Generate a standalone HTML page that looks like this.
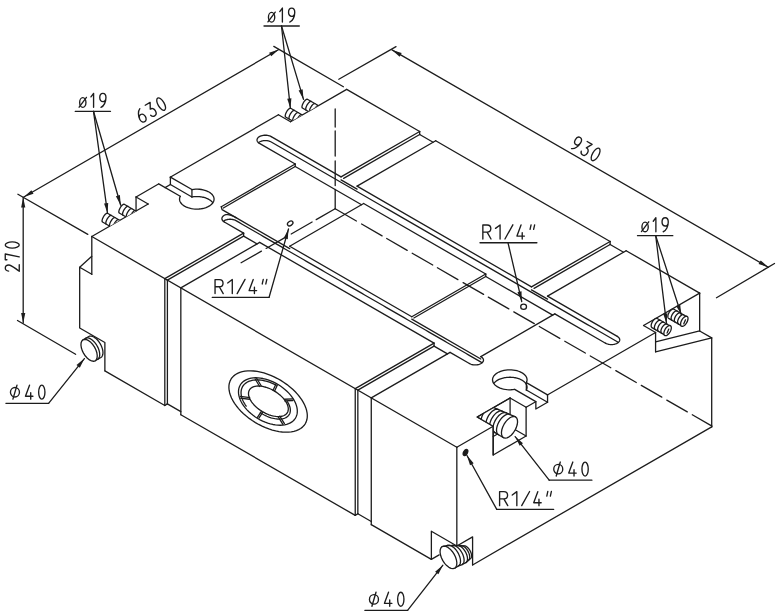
<!DOCTYPE html>
<html><head><meta charset="utf-8"><title>Tank drawing</title>
<style>
html,body{margin:0;padding:0;background:#fff;}
body{width:776px;height:616px;overflow:hidden;font-family:"Liberation Sans",sans-serif;}
svg{display:block}
svg path, svg line, svg ellipse, svg polyline{fill:none;stroke:#1c1c1c;stroke-width:1.3;stroke-linecap:round;stroke-linejoin:round}
svg .w{fill:#fff}
svg .t{stroke-width:1.3}
svg .wf{fill:#fff;stroke:none}
svg .ar{fill:#1c1c1c;stroke:none}
svg .tx path, svg .tx ellipse{stroke-width:1.35;vector-effect:non-scaling-stroke}
</style></head><body>
<svg width="776" height="616" viewBox="0 0 776 616">
<rect x="0" y="0" width="776" height="616" style="fill:#fff;stroke:none"/>
<path d="M91.8,236.5 L456.83,447.25"/>
<path d="M91.8,236.5 L91.8,274.3"/>
<path d="M91.8,274.3 L79.68,267.3 L79.68,328 L104.88,342.55 L104.88,370.85"/>
<path d="M79.68,267.3 L91.8,256.32"/>
<path d="M104.88,370.85 L164.81,405.45"/>
<path d="M180.83,414.7 L355.24,515.4"/>
<path d="M371.27,524.65 L431.37,559.35"/>
<path d="M164.81,278.65 L164.81,405.45"/>
<path d="M167.4,280.15 L167.4,403.85"/>
<path d="M180.83,287.9 L180.83,414.7"/>
<path d="M167.4,403.85 L180.83,411.6"/>
<path d="M164.81,405.45 L167.4,403.85"/>
<path d="M355.24,388.6 L355.24,515.4"/>
<path d="M357.84,390.1 L357.84,513.8"/>
<path d="M371.27,397.85 L371.27,524.65"/>
<path d="M357.84,513.8 L371.27,521.55"/>
<path d="M355.24,515.4 L357.84,513.8"/>
<path d="M456.83,447.25 L456.83,545.95"/>
<path d="M431.37,559.35 L431.37,531.25 L456.83,545.95"/>
<path d="M456.83,545.95 L472.59,536.85 L472.59,564.95"/>
<path d="M431.37,559.35 L439.16,554.85"/>
<path d="M472.59,564.95 L711.7,426.9"/>
<path d="M711.7,337.9 L711.7,426.9"/>
<path d="M91.8,236.5 L148.18,203.95"/>
<path d="M136.05,196.95 L148.18,203.95"/>
<path d="M136.05,196.95 L136.05,210.95"/>
<path d="M136.05,196.95 L158.48,184"/>
<path d="M170.18,177.25 L278.43,114.75"/>
<path d="M278.43,114.75 L290.55,121.75"/>
<path d="M290.55,121.75 L346.67,89.35"/>
<path d="M346.67,89.35 L419.68,131.5"/>
<path d="M435.7,140.75 L610.12,241.45"/>
<path d="M626.14,250.7 L699.66,293.15"/>
<path d="M419.68,131.5 L419.68,134.5"/>
<path d="M419.68,134.5 L433.1,142.25"/>
<path d="M610.12,241.45 L610.12,244.45"/>
<path d="M610.12,244.45 L623.54,252.2"/>
<path d="M456.83,447.25 L493.2,426.25"/>
<path d="M526.11,407.25 L535.64,401.75"/>
<path d="M547.33,395 L655.58,332.5"/>
<path d="M655.58,332.5 L643.54,325.55"/>
<path d="M643.54,325.55 L699.66,293.15"/>
<path d="M699.66,293.15 L699.66,330.95"/>
<path d="M655.58,332.5 L655.58,351.8"/>
<path d="M655.58,351.8 L711.7,337.9"/>
<path d="M699.66,330.95 L711.7,337.9"/>
<path d="M699.66,330.95 L655.58,341.87"/>
<path d="M164.81,278.65 L243.61,233.15"/>
<path d="M167.4,280.15 L243.61,236.15"/>
<path d="M180.83,287.9 L259.64,242.4"/>
<path d="M341.04,176.9 L419.68,131.5"/>
<path d="M343.64,178.4 L419.68,134.5"/>
<path d="M357.06,186.15 L435.7,140.75"/>
<path d="M355.24,388.6 L434.05,343.1"/>
<path d="M357.84,390.1 L434.05,346.1"/>
<path d="M371.27,397.85 L450.07,352.35"/>
<path d="M531.48,286.85 L610.12,241.45"/>
<path d="M534.08,288.35 L610.12,244.45"/>
<path d="M547.5,296.1 L626.14,250.7"/>
<path d="M221.27,206.75 L295.23,164.05"/>
<path d="M223.35,207.95 L295.23,166.45"/>
<path d="M289.69,246.25 L363.65,203.55"/>
<path d="M411.8,316.75 L485.75,274.05"/>
<path d="M413.87,317.95 L485.75,276.45"/>
<path d="M480.82,356.6 L554.78,313.9"/>
<path d="M235.99,217.65 L235.18,217.2 L234.28,216.73 L233.31,216.26 L232.29,215.81 L231.23,215.4 L230.15,215.05 L229.07,214.78 L228.01,214.61 L226.98,214.57 L226.01,214.65 L225.11,214.88 L224.3,215.25 L223.59,215.72 L222.99,216.24 L222.51,216.8 L222.16,217.39 L221.95,218 L221.88,218.62 L221.95,219.25 L222.16,219.86 L222.51,220.45 L222.99,221.01 L223.59,221.53 L224.3,222"/>
<path d="M469.39,363.5 L470.2,363.91 L471.1,364.26 L472.07,364.53 L473.09,364.74 L474.15,364.86 L475.23,364.9 L476.31,364.86 L477.37,364.74 L478.4,364.53 L479.37,364.26 L480.27,363.91 L481.08,363.5 L481.79,363.03 L482.39,362.51 L482.87,361.95 L483.22,361.36 L483.43,360.75 L483.5,360.12 L483.43,359.5 L483.22,358.89 L482.87,358.3 L482.39,357.74 L481.79,357.22 L481.08,356.75"/>
<path d="M224.3,222 L243.61,233.15"/>
<path d="M243.61,236.15 L257.04,243.9"/>
<path d="M243.61,233.15 L243.61,236.15"/>
<path d="M259.64,242.4 L434.05,343.1"/>
<path d="M434.05,346.1 L447.48,353.85"/>
<path d="M434.05,343.1 L434.05,346.1"/>
<path d="M450.07,352.35 L469.39,363.5"/>
<path d="M235.99,217.65 L289.69,248.65"/>
<path d="M289.69,246.25 L411.8,316.75"/>
<path d="M411.8,319.15 L480.82,359"/>
<path d="M480.82,356.6 L481.08,356.75"/>
<path d="M223.46,221.22 L223.86,220.93 L224.3,220.65 L224.78,220.4 L225.29,220.16 L225.83,219.96 L226.39,219.77 L226.98,219.62 L227.59,219.49 L228.22,219.38 L228.85,219.31 L229.5,219.27 L230.15,219.25 L230.8,219.27 L231.44,219.31 L232.08,219.38 L232.7,219.49 L233.31,219.62 L233.9,219.77 L234.47,219.96 L235.01,220.16 L235.52,220.4 L235.99,220.65 L239.06,222.42 L242.12,224.19 L245.18,225.96 L248.25,227.72 L251.31,229.49 L254.37,231.26 L257.44,233.03 L260.5,234.8 L263.57,236.57 L266.63,238.34 L269.69,240.11 L272.76,241.88 L275.82,243.64 L278.88,245.41 L281.95,247.18 L285.01,248.95 L288.07,250.72 L291.14,252.49 L294.2,254.26 L297.26,256.02 L300.33,257.79 L303.39,259.56 L306.46,261.33 L309.52,263.1 L312.58,264.87 L315.65,266.64 L318.71,268.41 L321.77,270.17 L324.84,271.94 L327.9,273.71 L330.96,275.48 L334.03,277.25 L337.09,279.02 L340.15,280.79 L343.22,282.56 L346.28,284.32 L349.35,286.09 L352.41,287.86 L355.47,289.63 L358.54,291.4 L361.6,293.17 L364.66,294.94 L367.73,296.71 L370.79,298.47 L373.85,300.24 L376.92,302.01 L379.98,303.78 L383.04,305.55 L386.11,307.32 L389.17,309.09 L392.24,310.86 L395.3,312.62 L398.36,314.39 L401.43,316.16 L404.49,317.93 L407.55,319.7 L410.62,321.47 L413.68,323.24 L416.74,325.01 L419.81,326.77 L422.87,328.54 L425.93,330.31 L429,332.08 L432.06,333.85 L435.12,335.62 L438.19,337.39 L441.25,339.16 L444.32,340.92 L447.38,342.69 L450.44,344.46 L453.51,346.23 L456.57,348 L459.63,349.77 L462.7,351.54 L465.76,353.31 L468.82,355.07 L471.89,356.84 L474.95,358.61 L478.01,360.38 L481.08,362.15 L481.52,362.43 L481.92,362.72"/>
<path d="M271.24,136.6 L270.42,136.19 L269.52,135.84 L268.54,135.56 L267.51,135.36 L266.44,135.23 L265.35,135.19 L264.26,135.23 L263.2,135.36 L262.16,135.56 L261.19,135.84 L260.28,136.19 L259.46,136.6 L258.74,137.07 L258.14,137.6 L257.66,138.16 L257.31,138.76 L257.09,139.37 L257.02,140 L257.09,140.63 L257.31,141.24 L257.66,141.84 L258.14,142.4 L258.74,142.93 L259.46,143.4"/>
<path d="M605.53,343.2 L606.35,343.61 L607.25,343.96 L608.23,344.24 L609.26,344.44 L610.33,344.57 L611.42,344.61 L612.5,344.57 L613.57,344.44 L614.6,344.24 L615.58,343.96 L616.49,343.61 L617.3,343.2 L618.02,342.73 L618.63,342.2 L619.11,341.64 L619.46,341.04 L619.67,340.43 L619.74,339.8 L619.67,339.17 L619.46,338.56 L619.11,337.96 L618.63,337.4 L618.02,336.87 L617.3,336.4"/>
<path d="M259.46,143.4 L295.23,164.05"/>
<path d="M295.23,166.45 L361.57,204.75"/>
<path d="M295.23,164.05 L295.23,166.45"/>
<path d="M363.65,203.55 L485.75,274.05"/>
<path d="M485.75,276.45 L552.7,315.1"/>
<path d="M485.75,274.05 L485.75,276.45"/>
<path d="M554.78,313.9 L605.53,343.2"/>
<path d="M271.24,136.6 L341.04,176.9"/>
<path d="M341.04,179.9 L357.06,189.15"/>
<path d="M357.06,186.15 L531.48,286.85"/>
<path d="M531.48,289.85 L547.5,299.1"/>
<path d="M547.5,296.1 L617.3,336.4"/>
<path d="M258.61,142.57 L259.02,142.28 L259.46,142 L259.94,141.74 L260.46,141.51 L261,141.3 L261.57,141.12 L262.16,140.96 L262.78,140.83 L263.41,140.72 L264.05,140.65 L264.7,140.61 L265.35,140.59 L266,140.61 L266.65,140.65 L267.3,140.72 L267.93,140.83 L268.54,140.96 L269.13,141.12 L269.7,141.3 L270.25,141.51 L270.76,141.74 L271.24,142 L275.57,144.5 L279.89,147 L284.22,149.49 L288.54,151.99 L292.87,154.49 L297.2,156.99 L301.52,159.48 L305.85,161.98 L310.17,164.48 L314.5,166.97 L318.82,169.47 L323.15,171.97 L327.48,174.47 L331.8,176.97 L336.13,179.46 L340.45,181.96 L344.78,184.46 L349.1,186.96 L353.43,189.45 L357.76,191.95 L362.08,194.45 L366.41,196.95 L370.73,199.44 L375.06,201.94 L379.39,204.44 L383.71,206.94 L388.04,209.43 L392.36,211.93 L396.69,214.43 L401.01,216.92 L405.34,219.42 L409.67,221.92 L413.99,224.42 L418.32,226.91 L422.64,229.41 L426.97,231.91 L431.29,234.41 L435.62,236.91 L439.95,239.4 L444.27,241.9 L448.6,244.4 L452.92,246.9 L457.25,249.39 L461.58,251.89 L465.9,254.39 L470.23,256.88 L474.55,259.38 L478.88,261.88 L483.2,264.38 L487.53,266.88 L491.86,269.37 L496.18,271.87 L500.51,274.37 L504.83,276.87 L509.16,279.36 L513.49,281.86 L517.81,284.36 L522.14,286.86 L526.46,289.35 L530.79,291.85 L535.11,294.35 L539.44,296.84 L543.77,299.34 L548.09,301.84 L552.42,304.34 L556.74,306.83 L561.07,309.33 L565.39,311.83 L569.72,314.33 L574.05,316.82 L578.37,319.32 L582.7,321.82 L587.02,324.32 L591.35,326.81 L595.68,329.31 L600,331.81 L604.33,334.31 L608.65,336.8 L612.98,339.3 L617.3,341.8 L617.75,342.08 L618.15,342.37"/>
<path d="M221.27,206.75 L222.05,209.6 L235.99,217.65"/>
<path d="M191.93,189.56 L193.78,189.31 L195.67,189.18 L197.57,189.16 L199.46,189.27 L201.32,189.5 L203.12,189.85 L204.85,190.3 L206.48,190.87 L207.99,191.53 L209.37,192.29 L210.6,193.12 L211.65,194.03 L212.53,195.01 L213.22,196.03 L213.71,197.09 L214,198.18 L214.07,199.27 L213.94,200.37 L213.6,201.45 L213.06,202.5 L212.32,203.51 L211.39,204.46 L210.28,205.36 L209.02,206.18 L207.6,206.91 L206.05,207.54 L204.4,208.08 L202.65,208.51 L200.82,208.82 L198.96,209.02 L197.06,209.09 L195.16,209.05 L193.28,208.89 L191.45,208.6 L189.67,208.21 L187.99,207.7 L186.41,207.09 L184.96,206.38 L183.65,205.58 L182.5,204.71 L181.52,203.77 L180.73,202.77 L180.14,201.73 L179.74,200.66 L179.55,199.56 L179.57,198.47 L179.8,197.38 L180.24,196.31"/>
<path d="M180.24,196.31 L158.7,183.88"/>
<path d="M191.93,189.56 L170.39,177.12"/>
<path d="M191.93,196.96 L170.39,184.53"/>
<path d="M191.93,189.56 L191.93,196.96"/>
<path d="M170.39,177.12 L170.39,184.53"/>
<path d="M191.93,196.96 L192.85,196.82 L193.78,196.71 L194.72,196.63 L195.67,196.58 L196.62,196.56 L197.57,196.56 L198.52,196.6 L199.46,196.67 L200.39,196.77 L201.32,196.9 L202.23,197.06 L203.12,197.25 L204,197.46 L204.85,197.7 L205.68,197.97 L206.48,198.27 L207.25,198.59 L207.99,198.93 L208.7,199.3 L209.37,199.69 L210,200.09 L210.6,200.52 L211.15,200.97 L211.65,201.43 L212.12,201.91 L212.53,202.41"/>
<path d="M170.39,184.53 L165.11,187.58"/>
<path d="M526.35,382.64 L526.79,381.57 L527.02,380.48 L527.04,379.39 L526.85,378.29 L526.46,377.22 L525.86,376.18 L525.07,375.18 L524.09,374.24 L522.94,373.37 L521.63,372.57 L520.18,371.86 L518.6,371.25 L516.92,370.74 L515.15,370.35 L513.31,370.06 L511.43,369.9 L509.53,369.86 L507.64,369.93 L505.77,370.13 L503.95,370.44 L502.2,370.87 L500.54,371.41 L498.99,372.04 L497.58,372.77 L496.31,373.59 L495.2,374.49 L494.28,375.44 L493.54,376.45 L492.99,377.5 L492.65,378.58 L492.52,379.68 L492.6,380.77 L492.88,381.86 L493.37,382.92 L494.06,383.94 L494.94,384.92 L496,385.83 L497.22,386.66 L498.6,387.42 L500.11,388.08 L501.74,388.65 L503.47,389.1 L505.28,389.45 L507.13,389.68 L509.03,389.79 L510.93,389.77 L512.81,389.64 L514.66,389.39"/>
<path d="M514.66,389.39 L535.85,401.62"/>
<path d="M526.35,382.64 L547.55,394.88"/>
<path d="M526.35,390.04 L547.55,402.27"/>
<path d="M526.35,382.64 L526.35,390.04"/>
<path d="M547.55,394.88 L547.55,402.27"/>
<path d="M526.35,390.04 L526.6,389.51 L526.79,388.97 L526.93,388.43 L527.02,387.88 L527.06,387.33 L527.04,386.79 L526.97,386.24 L526.85,385.69 L526.68,385.15 L526.46,384.62 L526.18,384.09 L525.86,383.58 L525.49,383.07 L525.07,382.58 L524.6,382.1 L524.09,381.64 L523.54,381.19 L522.94,380.77 L522.31,380.36 L521.63,379.97 L520.92,379.61 L520.18,379.26 L519.41,378.95 L518.6,378.65 L517.77,378.38 L516.92,378.14 L516.04,377.93 L515.15,377.75 L514.24,377.59 L513.31,377.46 L512.38,377.37 L511.43,377.3 L510.48,377.26 L509.53,377.26 L508.58,377.28 L507.64,377.33 L506.7,377.42 L505.77,377.53 L504.85,377.67 L503.95,377.84 L503.06,378.04 L502.2,378.27 L501.35,378.52 L500.54,378.81 L499.75,379.11 L498.99,379.44 L498.27,379.8 L497.58,380.17 L496.92,380.57 L496.31,380.99 L495.73,381.43 L495.2,381.89 L494.72,382.36 L494.28,382.84 L493.88,383.34"/>
<path d="M535.85,401.62 L535.85,409.02 L547.55,402.27"/>
<path d="M493.2,426.25 L477.18,417 L510.09,398 L526.11,407.25"/>
<path d="M493.2,426.25 L493.2,455.05 L526.11,436.05 L526.11,407.25"/>
<path d="M510.09,398 L510.09,426.8"/>
<path d="M510.09,426.8 L526.11,436.05"/>
<clipPath id="c1"><path d="M60,150 L136.05,150 L136.05,210.95 L91.8,236.5 L60,256.5 Z"/></clipPath>
<g clip-path="url(#c1)"><path class="wf" d="M107.5,213.3 L107.28,213.22 L107.03,213.22 L106.73,213.3 L106.41,213.45 L106.07,213.67 L105.7,213.96 L105.32,214.31 L104.94,214.72 L104.56,215.18 L104.19,215.68 L103.82,216.22 L103.48,216.78 L103.17,217.35 L102.89,217.93 L102.64,218.51 L102.43,219.07 L102.27,219.6 L102.15,220.11 L102.08,220.57 L102.06,220.98 L102.09,221.33 L102.18,221.62 L102.3,221.84 L102.48,221.99 L116.34,229.99 L116.55,230.07 L116.81,230.07 L117.1,230 L117.43,229.85 L117.77,229.63 L118.14,229.34 L118.51,228.98 L118.9,228.57 L119.28,228.11 L119.65,227.61 L120.01,227.08 L120.35,226.52 L120.67,225.94 L120.95,225.36 L121.2,224.79 L121.41,224.22 L121.57,223.69 L121.69,223.19 L121.76,222.73 L121.77,222.31 L121.74,221.96 L121.66,221.67 L121.53,221.45 L121.36,221.3 Z"/><path d="M121.36,221.3 L107.5,213.3 L107.28,213.22 L107.03,213.22 L106.73,213.3 L106.41,213.45 L106.07,213.67 L105.7,213.96 L105.32,214.31 L104.94,214.72 L104.56,215.18 L104.19,215.68 L103.82,216.22 L103.48,216.78 L103.17,217.35 L102.89,217.93 L102.64,218.51 L102.43,219.07 L102.27,219.6 L102.15,220.11 L102.08,220.57 L102.06,220.98 L102.09,221.33 L102.18,221.62 L102.3,221.84 L102.48,221.99 L116.34,229.99"/><path d="M116.34,229.99 L116.55,230.07 L116.81,230.07 L117.1,230 L117.43,229.85 L117.77,229.63 L118.14,229.34 L118.51,228.98 L118.9,228.57 L119.28,228.11 L119.65,227.61 L120.01,227.08 L120.35,226.52 L120.67,225.94 L120.95,225.36 L121.2,224.79 L121.41,224.22 L121.57,223.69 L121.69,223.19 L121.76,222.73 L121.77,222.31 L121.74,221.96 L121.66,221.67 L121.53,221.45 L121.36,221.3"/><path d="M111.24,215.46 L111.02,215.38 L110.77,215.38 L110.48,215.46 L110.15,215.61 L109.81,215.83 L109.44,216.12 L109.07,216.47 L108.68,216.88 L108.3,217.34 L107.93,217.84 L107.57,218.38 L107.23,218.94 L106.91,219.51 L106.63,220.09 L106.38,220.67 L106.17,221.23 L106.01,221.76 L105.89,222.27 L105.82,222.73 L105.8,223.14 L105.84,223.49 L105.92,223.78 L106.05,224 L106.22,224.15"/><path d="M114.98,217.62 L114.77,217.54 L114.51,217.54 L114.22,217.62 L113.89,217.77 L113.55,217.99 L113.18,218.28 L112.81,218.63 L112.42,219.04 L112.04,219.5 L111.67,220 L111.31,220.54 L110.97,221.1 L110.65,221.67 L110.37,222.25 L110.12,222.83 L109.91,223.39 L109.75,223.92 L109.63,224.43 L109.56,224.89 L109.55,225.3 L109.58,225.65 L109.66,225.94 L109.79,226.16 L109.96,226.31"/><path d="M118.59,219.7 L118.37,219.62 L118.11,219.62 L117.82,219.7 L117.5,219.85 L117.15,220.07 L116.79,220.36 L116.41,220.71 L116.03,221.12 L115.64,221.58 L115.27,222.08 L114.91,222.62 L114.57,223.18 L114.25,223.75 L113.97,224.33 L113.72,224.91 L113.52,225.47 L113.35,226 L113.24,226.51 L113.17,226.97 L113.15,227.38 L113.18,227.73 L113.26,228.02 L113.39,228.24 L113.57,228.39"/></g>
<g clip-path="url(#c1)"><path class="wf" d="M124.25,204.3 L124.03,204.22 L123.78,204.22 L123.48,204.3 L123.16,204.45 L122.82,204.67 L122.45,204.96 L122.07,205.31 L121.69,205.72 L121.31,206.18 L120.94,206.68 L120.57,207.22 L120.23,207.78 L119.92,208.35 L119.64,208.93 L119.39,209.51 L119.18,210.07 L119.02,210.6 L118.9,211.11 L118.83,211.57 L118.81,211.98 L118.84,212.33 L118.93,212.62 L119.05,212.84 L119.23,212.99 L133.09,220.99 L133.3,221.07 L133.56,221.07 L133.85,221 L134.18,220.85 L134.52,220.63 L134.89,220.34 L135.26,219.98 L135.65,219.57 L136.03,219.11 L136.4,218.61 L136.76,218.08 L137.1,217.52 L137.42,216.94 L137.7,216.36 L137.95,215.79 L138.16,215.22 L138.32,214.69 L138.44,214.19 L138.51,213.73 L138.52,213.31 L138.49,212.96 L138.41,212.67 L138.28,212.45 L138.11,212.3 Z"/><path d="M138.11,212.3 L124.25,204.3 L124.03,204.22 L123.78,204.22 L123.48,204.3 L123.16,204.45 L122.82,204.67 L122.45,204.96 L122.07,205.31 L121.69,205.72 L121.31,206.18 L120.94,206.68 L120.57,207.22 L120.23,207.78 L119.92,208.35 L119.64,208.93 L119.39,209.51 L119.18,210.07 L119.02,210.6 L118.9,211.11 L118.83,211.57 L118.81,211.98 L118.84,212.33 L118.93,212.62 L119.05,212.84 L119.23,212.99 L133.09,220.99"/><path d="M133.09,220.99 L133.3,221.07 L133.56,221.07 L133.85,221 L134.18,220.85 L134.52,220.63 L134.89,220.34 L135.26,219.98 L135.65,219.57 L136.03,219.11 L136.4,218.61 L136.76,218.08 L137.1,217.52 L137.42,216.94 L137.7,216.36 L137.95,215.79 L138.16,215.22 L138.32,214.69 L138.44,214.19 L138.51,213.73 L138.52,213.31 L138.49,212.96 L138.41,212.67 L138.28,212.45 L138.11,212.3"/><path d="M127.99,206.46 L127.77,206.38 L127.52,206.38 L127.23,206.46 L126.9,206.61 L126.56,206.83 L126.19,207.12 L125.82,207.47 L125.43,207.88 L125.05,208.34 L124.68,208.84 L124.32,209.38 L123.98,209.94 L123.66,210.51 L123.38,211.09 L123.13,211.67 L122.92,212.23 L122.76,212.76 L122.64,213.27 L122.57,213.73 L122.55,214.14 L122.59,214.49 L122.67,214.78 L122.8,215 L122.97,215.15"/><path d="M131.73,208.62 L131.52,208.54 L131.26,208.54 L130.97,208.62 L130.64,208.77 L130.3,208.99 L129.93,209.28 L129.56,209.63 L129.17,210.04 L128.79,210.5 L128.42,211 L128.06,211.54 L127.72,212.1 L127.4,212.67 L127.12,213.25 L126.87,213.83 L126.66,214.39 L126.5,214.92 L126.38,215.43 L126.31,215.89 L126.3,216.3 L126.33,216.65 L126.41,216.94 L126.54,217.16 L126.71,217.31"/><path d="M135.34,210.7 L135.12,210.62 L134.86,210.62 L134.57,210.7 L134.25,210.85 L133.9,211.07 L133.54,211.36 L133.16,211.71 L132.78,212.12 L132.39,212.58 L132.02,213.08 L131.66,213.62 L131.32,214.18 L131,214.75 L130.72,215.33 L130.47,215.91 L130.27,216.47 L130.1,217 L129.99,217.51 L129.92,217.97 L129.9,218.38 L129.93,218.73 L130.01,219.02 L130.14,219.24 L130.32,219.39"/></g>
<clipPath id="c2"><path d="M268.43,40 L346.67,40 L346.67,89.35 L290.55,121.75 L278.43,114.75 L268.43,120.75 Z"/></clipPath>
<g clip-path="url(#c2)"><path class="wf" d="M290.65,108.3 L290.43,108.22 L290.18,108.22 L289.88,108.3 L289.56,108.45 L289.22,108.67 L288.85,108.96 L288.47,109.31 L288.09,109.72 L287.71,110.18 L287.34,110.68 L286.97,111.22 L286.63,111.78 L286.32,112.35 L286.04,112.93 L285.79,113.51 L285.58,114.07 L285.42,114.6 L285.3,115.11 L285.23,115.57 L285.21,115.98 L285.24,116.33 L285.33,116.62 L285.45,116.84 L285.63,116.99 L299.49,124.99 L299.7,125.07 L299.96,125.07 L300.25,125 L300.58,124.85 L300.92,124.63 L301.29,124.34 L301.66,123.98 L302.05,123.57 L302.43,123.11 L302.8,122.61 L303.16,122.08 L303.5,121.52 L303.82,120.94 L304.1,120.36 L304.35,119.79 L304.56,119.22 L304.72,118.69 L304.84,118.19 L304.91,117.73 L304.92,117.31 L304.89,116.96 L304.81,116.67 L304.68,116.45 L304.51,116.3 Z"/><path d="M304.51,116.3 L290.65,108.3 L290.43,108.22 L290.18,108.22 L289.88,108.3 L289.56,108.45 L289.22,108.67 L288.85,108.96 L288.47,109.31 L288.09,109.72 L287.71,110.18 L287.34,110.68 L286.97,111.22 L286.63,111.78 L286.32,112.35 L286.04,112.93 L285.79,113.51 L285.58,114.07 L285.42,114.6 L285.3,115.11 L285.23,115.57 L285.21,115.98 L285.24,116.33 L285.33,116.62 L285.45,116.84 L285.63,116.99 L299.49,124.99"/><path d="M299.49,124.99 L299.7,125.07 L299.96,125.07 L300.25,125 L300.58,124.85 L300.92,124.63 L301.29,124.34 L301.66,123.98 L302.05,123.57 L302.43,123.11 L302.8,122.61 L303.16,122.08 L303.5,121.52 L303.82,120.94 L304.1,120.36 L304.35,119.79 L304.56,119.22 L304.72,118.69 L304.84,118.19 L304.91,117.73 L304.92,117.31 L304.89,116.96 L304.81,116.67 L304.68,116.45 L304.51,116.3"/><path d="M294.39,110.46 L294.17,110.38 L293.92,110.38 L293.63,110.46 L293.3,110.61 L292.96,110.83 L292.59,111.12 L292.22,111.47 L291.83,111.88 L291.45,112.34 L291.08,112.84 L290.72,113.38 L290.38,113.94 L290.06,114.51 L289.78,115.09 L289.53,115.67 L289.32,116.23 L289.16,116.76 L289.04,117.27 L288.97,117.73 L288.95,118.14 L288.99,118.49 L289.07,118.78 L289.2,119 L289.37,119.15"/><path d="M298.13,112.62 L297.92,112.54 L297.66,112.54 L297.37,112.62 L297.04,112.77 L296.7,112.99 L296.33,113.28 L295.96,113.63 L295.57,114.04 L295.19,114.5 L294.82,115 L294.46,115.54 L294.12,116.1 L293.8,116.67 L293.52,117.25 L293.27,117.83 L293.06,118.39 L292.9,118.92 L292.78,119.43 L292.71,119.89 L292.7,120.3 L292.73,120.65 L292.81,120.94 L292.94,121.16 L293.11,121.31"/><path d="M301.74,114.7 L301.52,114.62 L301.26,114.62 L300.97,114.7 L300.65,114.85 L300.3,115.07 L299.94,115.36 L299.56,115.71 L299.18,116.12 L298.79,116.58 L298.42,117.08 L298.06,117.62 L297.72,118.18 L297.4,118.75 L297.12,119.33 L296.87,119.91 L296.67,120.47 L296.5,121 L296.39,121.51 L296.32,121.97 L296.3,122.38 L296.33,122.73 L296.41,123.02 L296.54,123.24 L296.72,123.39"/></g>
<g clip-path="url(#c2)"><path class="wf" d="M307.4,99.3 L307.18,99.22 L306.93,99.22 L306.63,99.3 L306.31,99.45 L305.97,99.67 L305.6,99.96 L305.22,100.31 L304.84,100.72 L304.46,101.18 L304.09,101.68 L303.72,102.22 L303.38,102.78 L303.07,103.35 L302.79,103.93 L302.54,104.51 L302.33,105.07 L302.17,105.6 L302.05,106.11 L301.98,106.57 L301.96,106.98 L301.99,107.33 L302.08,107.62 L302.2,107.84 L302.38,107.99 L316.24,115.99 L316.45,116.07 L316.71,116.07 L317,116 L317.33,115.85 L317.67,115.63 L318.04,115.34 L318.41,114.98 L318.8,114.57 L319.18,114.11 L319.55,113.61 L319.91,113.08 L320.25,112.52 L320.57,111.94 L320.85,111.36 L321.1,110.79 L321.31,110.22 L321.47,109.69 L321.59,109.19 L321.66,108.73 L321.67,108.31 L321.64,107.96 L321.56,107.67 L321.43,107.45 L321.26,107.3 Z"/><path d="M321.26,107.3 L307.4,99.3 L307.18,99.22 L306.93,99.22 L306.63,99.3 L306.31,99.45 L305.97,99.67 L305.6,99.96 L305.22,100.31 L304.84,100.72 L304.46,101.18 L304.09,101.68 L303.72,102.22 L303.38,102.78 L303.07,103.35 L302.79,103.93 L302.54,104.51 L302.33,105.07 L302.17,105.6 L302.05,106.11 L301.98,106.57 L301.96,106.98 L301.99,107.33 L302.08,107.62 L302.2,107.84 L302.38,107.99 L316.24,115.99"/><path d="M316.24,115.99 L316.45,116.07 L316.71,116.07 L317,116 L317.33,115.85 L317.67,115.63 L318.04,115.34 L318.41,114.98 L318.8,114.57 L319.18,114.11 L319.55,113.61 L319.91,113.08 L320.25,112.52 L320.57,111.94 L320.85,111.36 L321.1,110.79 L321.31,110.22 L321.47,109.69 L321.59,109.19 L321.66,108.73 L321.67,108.31 L321.64,107.96 L321.56,107.67 L321.43,107.45 L321.26,107.3"/><path d="M311.14,101.46 L310.92,101.38 L310.67,101.38 L310.38,101.46 L310.05,101.61 L309.71,101.83 L309.34,102.12 L308.97,102.47 L308.58,102.88 L308.2,103.34 L307.83,103.84 L307.47,104.38 L307.13,104.94 L306.81,105.51 L306.53,106.09 L306.28,106.67 L306.07,107.23 L305.91,107.76 L305.79,108.27 L305.72,108.73 L305.7,109.14 L305.74,109.49 L305.82,109.78 L305.95,110 L306.12,110.15"/><path d="M314.88,103.62 L314.67,103.54 L314.41,103.54 L314.12,103.62 L313.79,103.77 L313.45,103.99 L313.08,104.28 L312.71,104.63 L312.32,105.04 L311.94,105.5 L311.57,106 L311.21,106.54 L310.87,107.1 L310.55,107.67 L310.27,108.25 L310.02,108.83 L309.81,109.39 L309.65,109.92 L309.53,110.43 L309.46,110.89 L309.45,111.3 L309.48,111.65 L309.56,111.94 L309.69,112.16 L309.86,112.31"/><path d="M318.49,105.7 L318.27,105.62 L318.01,105.62 L317.72,105.7 L317.4,105.85 L317.05,106.07 L316.69,106.36 L316.31,106.71 L315.93,107.12 L315.54,107.58 L315.17,108.08 L314.81,108.62 L314.47,109.18 L314.15,109.75 L313.87,110.33 L313.62,110.91 L313.42,111.47 L313.25,112 L313.14,112.51 L313.07,112.97 L313.05,113.38 L313.08,113.73 L313.16,114.02 L313.29,114.24 L313.47,114.39"/></g>
<clipPath id="c3"><path d="M643.54,325.55 L655.58,332.5 L655.58,362.5 L740,362.5 L740,250 L643.54,250 Z"/></clipPath>
<g clip-path="url(#c3)"><path class="wf" d="M657.24,318.54 L656.93,318.41 L656.57,318.36 L656.19,318.39 L655.77,318.5 L655.34,318.69 L654.89,318.96 L654.44,319.3 L653.99,319.7 L653.55,320.16 L653.13,320.67 L652.73,321.22 L652.37,321.81 L652.05,322.41 L651.77,323.03 L651.53,323.65 L651.35,324.26 L651.23,324.85 L651.17,325.41 L651.16,325.93 L651.21,326.4 L651.32,326.82 L651.49,327.17 L651.71,327.45 L651.98,327.66 L664.97,335.16 L665.28,335.29 L665.64,335.34 L666.02,335.31 L666.44,335.2 L666.87,335.01 L667.32,334.74 L667.77,334.4 L668.22,334 L668.66,333.54 L669.08,333.03 L669.48,332.48 L669.84,331.89 L670.16,331.29 L670.44,330.67 L670.68,330.05 L670.85,329.44 L670.98,328.85 L671.04,328.29 L671.05,327.77 L671,327.3 L670.89,326.88 L670.72,326.53 L670.5,326.25 L670.23,326.04 Z"/><path d="M670.23,326.04 L657.24,318.54 L656.93,318.41 L656.57,318.36 L656.19,318.39 L655.77,318.5 L655.34,318.69 L654.89,318.96 L654.44,319.3 L653.99,319.7 L653.55,320.16 L653.13,320.67 L652.73,321.22 L652.37,321.81 L652.05,322.41 L651.77,323.03 L651.53,323.65 L651.35,324.26 L651.23,324.85 L651.17,325.41 L651.16,325.93 L651.21,326.4 L651.32,326.82 L651.49,327.17 L651.71,327.45 L651.98,327.66 L664.97,335.16"/><path d="M660.49,320.41 L660.18,320.28 L659.82,320.24 L659.43,320.27 L659.02,320.38 L658.58,320.57 L658.14,320.84 L657.68,321.17 L657.24,321.58 L656.8,322.04 L656.38,322.55 L655.98,323.1 L655.62,323.68 L655.29,324.29 L655.01,324.91 L654.78,325.53 L654.6,326.14 L654.48,326.73 L654.41,327.29 L654.41,327.81 L654.46,328.28 L654.57,328.69 L654.73,329.05 L654.95,329.33 L655.22,329.54"/><path d="M663.74,322.29 L663.42,322.16 L663.07,322.11 L662.68,322.14 L662.27,322.25 L661.83,322.44 L661.38,322.71 L660.93,323.05 L660.48,323.45 L660.04,323.91 L659.62,324.42 L659.23,324.97 L658.87,325.56 L658.54,326.16 L658.26,326.78 L658.03,327.4 L657.85,328.01 L657.73,328.6 L657.66,329.16 L657.65,329.68 L657.71,330.15 L657.82,330.57 L657.98,330.92 L658.2,331.2 L658.47,331.41"/><path d="M666.99,324.16 L666.67,324.03 L666.32,323.99 L665.93,324.02 L665.51,324.13 L665.08,324.32 L664.63,324.59 L664.18,324.92 L663.73,325.33 L663.29,325.79 L662.87,326.3 L662.48,326.85 L662.11,327.43 L661.79,328.04 L661.51,328.66 L661.28,329.28 L661.1,329.89 L660.97,330.48 L660.91,331.04 L660.9,331.56 L660.95,332.03 L661.06,332.44 L661.23,332.8 L661.45,333.08 L661.72,333.29"/><path class="w" d="M671.32,328.1 L671.27,327.03 L670.97,326.2 L670.44,325.67 L669.72,325.48 L668.85,325.64 L667.9,326.13 L666.93,326.93 L666,327.98 L665.18,329.2 L664.53,330.53 L664.08,331.85 L663.88,333.1 L663.93,334.17 L664.23,335 L664.76,335.53 L665.48,335.72 L666.35,335.56 L667.3,335.07 L668.27,334.27 L669.2,333.22 L670.02,332 L670.67,330.67 L671.12,329.35 L671.32,328.1 Z"/></g>
<path d="M667.1,333.1 L668.8,329.1"/>
<g clip-path="url(#c3)"><path class="wf" d="M673.94,309.24 L673.63,309.11 L673.27,309.06 L672.89,309.09 L672.47,309.2 L672.04,309.39 L671.59,309.66 L671.14,310 L670.69,310.4 L670.25,310.86 L669.83,311.37 L669.43,311.92 L669.07,312.51 L668.75,313.11 L668.47,313.73 L668.23,314.35 L668.05,314.96 L667.93,315.55 L667.87,316.11 L667.86,316.63 L667.91,317.1 L668.02,317.52 L668.19,317.87 L668.41,318.15 L668.68,318.36 L681.67,325.86 L681.98,325.99 L682.34,326.04 L682.72,326.01 L683.14,325.9 L683.57,325.71 L684.02,325.44 L684.47,325.1 L684.92,324.7 L685.36,324.24 L685.78,323.73 L686.18,323.18 L686.54,322.59 L686.86,321.99 L687.14,321.37 L687.38,320.75 L687.55,320.14 L687.68,319.55 L687.74,318.99 L687.75,318.47 L687.7,318 L687.59,317.58 L687.42,317.23 L687.2,316.95 L686.93,316.74 Z"/><path d="M686.93,316.74 L673.94,309.24 L673.63,309.11 L673.27,309.06 L672.89,309.09 L672.47,309.2 L672.04,309.39 L671.59,309.66 L671.14,310 L670.69,310.4 L670.25,310.86 L669.83,311.37 L669.43,311.92 L669.07,312.51 L668.75,313.11 L668.47,313.73 L668.23,314.35 L668.05,314.96 L667.93,315.55 L667.87,316.11 L667.86,316.63 L667.91,317.1 L668.02,317.52 L668.19,317.87 L668.41,318.15 L668.68,318.36 L681.67,325.86"/><path d="M677.19,311.11 L676.88,310.98 L676.52,310.94 L676.13,310.97 L675.72,311.08 L675.28,311.27 L674.84,311.54 L674.38,311.87 L673.94,312.28 L673.5,312.74 L673.08,313.25 L672.68,313.8 L672.32,314.38 L671.99,314.99 L671.71,315.61 L671.48,316.23 L671.3,316.84 L671.18,317.43 L671.11,317.99 L671.11,318.51 L671.16,318.98 L671.27,319.39 L671.43,319.75 L671.65,320.03 L671.92,320.24"/><path d="M680.44,312.99 L680.12,312.86 L679.77,312.81 L679.38,312.84 L678.97,312.95 L678.53,313.14 L678.08,313.41 L677.63,313.75 L677.18,314.15 L676.74,314.61 L676.32,315.12 L675.93,315.67 L675.57,316.26 L675.24,316.86 L674.96,317.48 L674.73,318.1 L674.55,318.71 L674.43,319.3 L674.36,319.86 L674.35,320.38 L674.41,320.85 L674.52,321.27 L674.68,321.62 L674.9,321.9 L675.17,322.11"/><path d="M683.69,314.86 L683.37,314.73 L683.02,314.69 L682.63,314.72 L682.21,314.83 L681.78,315.02 L681.33,315.29 L680.88,315.62 L680.43,316.03 L679.99,316.49 L679.57,317 L679.18,317.55 L678.81,318.13 L678.49,318.74 L678.21,319.36 L677.98,319.98 L677.8,320.59 L677.67,321.18 L677.61,321.74 L677.6,322.26 L677.65,322.73 L677.76,323.14 L677.93,323.5 L678.15,323.78 L678.42,323.99"/><path class="w" d="M688.02,318.8 L687.97,317.73 L687.67,316.9 L687.14,316.37 L686.42,316.18 L685.55,316.34 L684.6,316.83 L683.63,317.63 L682.7,318.68 L681.88,319.9 L681.23,321.23 L680.78,322.55 L680.58,323.8 L680.63,324.87 L680.93,325.7 L681.46,326.23 L682.18,326.42 L683.05,326.26 L684,325.77 L684.97,324.97 L685.9,323.92 L686.72,322.7 L687.37,321.37 L687.82,320.05 L688.02,318.8 Z"/></g>
<path d="M683.8,323.8 L685.5,319.8"/>
<clipPath id="c4"><path d="M476.88,417 L510.09,398 L529.11,407.25 L529.11,439.05 L493.2,458.05 L493.2,426.25 Z"/></clipPath>
<path d="M493.2,436.55 L510.09,426.8"/>
<clipPath id="c5"><path d="M60,316.7 L79.6,328 L104.8,342.5 L104.8,390 L60,390 Z"/></clipPath>
<g clip-path="url(#c5)"><path class="wf" d="M88.75,336.5 L89.52,336.18 L90.37,336.04 L91.3,336.09 L92.29,336.33 L93.33,336.75 L94.39,337.35 L95.45,338.11 L96.51,339.02 L97.54,340.07 L98.52,341.24 L99.43,342.51 L100.27,343.85 L101.02,345.25 L101.66,346.67 L102.18,348.11 L102.57,349.52 L102.84,350.89 L102.96,352.2 L102.95,353.41 L102.79,354.52 L102.5,355.5 L102.08,356.33 L101.54,357 L100.88,357.5 L95.16,360.8 L94.4,361.12 L93.54,361.26 L92.61,361.21 L91.62,360.97 L90.59,360.55 L89.53,359.95 L88.46,359.19 L87.41,358.28 L86.38,357.23 L85.4,356.06 L84.48,354.79 L83.64,353.45 L82.9,352.05 L82.26,350.63 L81.74,349.19 L81.34,347.78 L81.08,346.41 L80.96,345.1 L80.97,343.89 L81.12,342.78 L81.41,341.8 L81.83,340.97 L82.38,340.3 L83.04,339.8 Z"/><path d="M83.04,339.8 L88.75,336.5 L89.52,336.18 L90.37,336.04 L91.3,336.09 L92.29,336.33 L93.33,336.75 L94.39,337.35 L95.45,338.11 L96.51,339.02 L97.54,340.07 L98.52,341.24 L99.43,342.51 L100.27,343.85 L101.02,345.25 L101.66,346.67 L102.18,348.11 L102.57,349.52 L102.84,350.89 L102.96,352.2 L102.95,353.41 L102.79,354.52 L102.5,355.5 L102.08,356.33 L101.54,357 L100.88,357.5 L95.16,360.8"/><path d="M85.5,338.38 L86.26,338.06 L87.11,337.92 L88.04,337.97 L89.04,338.21 L90.07,338.63 L91.13,339.23 L92.2,339.99 L93.25,340.9 L94.28,341.95 L95.26,343.12 L96.18,344.39 L97.01,345.73 L97.76,347.13 L98.4,348.56 L98.92,349.99 L99.31,351.4 L99.58,352.77 L99.7,354.08 L99.69,355.29 L99.54,356.4 L99.25,357.38 L98.83,358.21 L98.28,358.88 L97.62,359.38"/><path class="w" d="M97.24,355.5 L96.86,352.82 L95.94,349.97 L94.56,347.15 L92.8,344.54 L90.79,342.32 L88.67,340.65 L86.58,339.63 L84.66,339.34 L83.04,339.8 L81.83,340.97 L81.12,342.78 L80.96,345.1 L81.34,347.78 L82.26,350.63 L83.64,353.45 L85.4,356.06 L87.41,358.28 L89.53,359.95 L91.62,360.97 L93.54,361.26 L95.16,360.8 L96.37,359.63 L97.08,357.82 L97.24,355.5 Z"/></g>
<g clip-path="url(#c4)"><path class="wf" d="M515.5,416.91 L510.15,414.6 L506.36,412.96 L502.57,411.33 L498.56,409.59 L493.21,407.28 L492.55,407.01 L491.82,406.89 L491.02,406.94 L490.17,407.14 L489.28,407.5 L488.37,408.01 L487.45,408.67 L486.55,409.45 L485.66,410.35 L484.82,411.35 L484.03,412.44 L483.32,413.6 L482.68,414.8 L482.13,416.02 L481.68,417.25 L481.34,418.47 L481.11,419.64 L481.01,420.76 L481.02,421.81 L481.15,422.76 L481.4,423.59 L481.76,424.31 L482.23,424.89 L482.79,425.32 L487.76,428.29 L491.49,430.51 L495.01,432.62 L498.53,434.72 L503.5,437.69 L503.5,437.69 L504.26,438.01 L505.1,438.15 L506.02,438.1 L507,437.86 L508.03,437.44 L509.08,436.86 L510.13,436.1 L511.18,435.2 L512.19,434.16 L513.16,433 L514.07,431.75 L514.9,430.42 L515.64,429.03 L516.27,427.62 L516.79,426.2 L517.18,424.8 L517.44,423.45 L517.56,422.16 L517.55,420.95 L517.4,419.86 L517.11,418.89 L516.69,418.07 L516.15,417.4 L515.5,416.91 Z"/><path d="M515.5,416.91 L510.15,414.6 L506.36,412.96 L502.57,411.33 L498.56,409.59 L493.21,407.28 L492.55,407.01 L491.82,406.89 L491.02,406.94 L490.17,407.14 L489.28,407.5 L488.37,408.01 L487.45,408.67 L486.55,409.45 L485.66,410.35 L484.82,411.35 L484.03,412.44 L483.32,413.6 L482.68,414.8 L482.13,416.02 L481.68,417.25 L481.34,418.47 L481.11,419.64 L481.01,420.76 L481.02,421.81 L481.15,422.76 L481.4,423.59 L481.76,424.31 L482.23,424.89 L482.79,425.32 L487.76,428.29 L491.49,430.51 L495.01,432.62 L498.53,434.72 L503.5,437.69"/><path d="M498.56,409.59 L497.88,409.31 L497.12,409.19 L496.29,409.23 L495.4,409.44 L494.48,409.82 L493.54,410.35 L492.59,411.03 L491.65,411.84 L490.74,412.77 L489.87,413.81 L489.05,414.94 L488.3,416.14 L487.64,417.38 L487.07,418.65 L486.61,419.93 L486.26,421.18 L486.02,422.41 L485.91,423.57 L485.92,424.65 L486.06,425.63 L486.32,426.5 L486.69,427.24 L487.18,427.84 L487.76,428.29"/><path d="M502.57,411.33 L501.87,411.03 L501.09,410.91 L500.24,410.95 L499.33,411.17 L498.39,411.56 L497.42,412.1 L496.45,412.8 L495.48,413.63 L494.54,414.59 L493.65,415.66 L492.81,416.81 L492.04,418.04 L491.36,419.32 L490.78,420.62 L490.3,421.93 L489.94,423.22 L489.7,424.48 L489.59,425.67 L489.6,426.78 L489.74,427.79 L490,428.68 L490.39,429.44 L490.89,430.06 L491.49,430.51"/><path d="M506.36,412.96 L505.64,412.66 L504.84,412.53 L503.97,412.58 L503.05,412.8 L502.08,413.2 L501.09,413.75 L500.09,414.47 L499.1,415.32 L498.14,416.3 L497.22,417.4 L496.36,418.58 L495.58,419.84 L494.88,421.15 L494.28,422.49 L493.79,423.83 L493.42,425.15 L493.18,426.43 L493.06,427.66 L493.07,428.79 L493.22,429.83 L493.49,430.74 L493.88,431.52 L494.39,432.15 L495.01,432.62"/><path d="M510.15,414.6 L509.42,414.29 L508.6,414.16 L507.71,414.21 L506.76,414.44 L505.77,414.84 L504.75,415.41 L503.73,416.14 L502.72,417.01 L501.73,418.02 L500.79,419.14 L499.91,420.35 L499.11,421.64 L498.4,422.98 L497.79,424.35 L497.29,425.72 L496.91,427.08 L496.65,428.39 L496.53,429.64 L496.55,430.81 L496.69,431.87 L496.97,432.8 L497.37,433.6 L497.9,434.24 L498.53,434.72"/><path class="w" d="M517.56,422.16 L517.4,419.86 L516.69,418.07 L515.5,416.91 L513.9,416.45 L512,416.74 L509.92,417.75 L507.82,419.4 L505.84,421.6 L504.1,424.18 L502.73,426.98 L501.82,429.8 L501.44,432.44 L501.6,434.74 L502.31,436.53 L503.5,437.69 L505.1,438.15 L507,437.86 L509.08,436.86 L511.18,435.2 L513.16,433 L514.9,430.42 L516.27,427.62 L517.18,424.8 L517.56,422.16 Z"/></g>
<path d="M493.2,455.05 L493.2,426.25 L477.18,417 L510.09,398"/>
<clipPath id="c6"><path d="M400,513 L431.4,531.1 L456.9,544.6 L472.4,536.6 L472.4,600 L400,600 Z"/></clipPath>
<g clip-path="url(#c6)"><path class="wf" d="M442.21,546.57 L446.73,545.54 L451.32,545.66 L456.02,545.68 L459.81,545.81 L462.96,546.04 L463.43,545.84 L463.94,545.76 L464.51,545.79 L465.11,545.94 L465.73,546.19 L466.38,546.55 L467.02,547.01 L467.66,547.57 L468.29,548.2 L468.88,548.91 L469.44,549.68 L469.94,550.49 L470.39,551.34 L470.78,552.21 L471.1,553.07 L471.34,553.93 L471.5,554.76 L471.57,555.55 L471.56,556.29 L471.47,556.96 L471.3,557.55 L471.04,558.06 L470.71,558.46 L470.31,558.77 L468.26,560.45 L465.82,562.65 L462.22,564.54 L458.49,565.91 L454.7,568.21 L454.7,568.21 L453.91,568.54 L453.03,568.68 L452.07,568.63 L451.05,568.38 L449.99,567.95 L448.9,567.33 L447.8,566.55 L446.71,565.61 L445.65,564.53 L444.64,563.32 L443.7,562.02 L442.83,560.64 L442.07,559.2 L441.41,557.72 L440.87,556.25 L440.46,554.79 L440.19,553.38 L440.06,552.03 L440.08,550.78 L440.23,549.64 L440.53,548.64 L440.97,547.78 L441.53,547.09 L442.21,546.57 Z"/><path d="M442.21,546.57 L446.73,545.54 L451.32,545.66 L456.02,545.68 L459.81,545.81 L462.96,546.04 L463.43,545.84 L463.94,545.76 L464.51,545.79 L465.11,545.94 L465.73,546.19 L466.38,546.55 L467.02,547.01 L467.66,547.57 L468.29,548.2 L468.88,548.91 L469.44,549.68 L469.94,550.49 L470.39,551.34 L470.78,552.21 L471.1,553.07 L471.34,553.93 L471.5,554.76 L471.57,555.55 L471.56,556.29 L471.47,556.96 L471.3,557.55 L471.04,558.06 L470.71,558.46 L470.31,558.77 L468.26,560.45 L465.82,562.65 L462.22,564.54 L458.49,565.91 L454.7,568.21"/><path d="M459.81,545.81 L460.35,545.59 L460.94,545.49 L461.59,545.53 L462.28,545.69 L463,545.99 L463.74,546.4 L464.48,546.93 L465.22,547.57 L465.94,548.3 L466.62,549.11 L467.26,550 L467.84,550.93 L468.36,551.91 L468.81,552.9 L469.17,553.9 L469.44,554.89 L469.63,555.84 L469.72,556.75 L469.71,557.6 L469.6,558.37 L469.4,559.05 L469.1,559.63 L468.72,560.1 L468.26,560.45"/><path d="M456.02,545.68 L456.64,545.42 L457.33,545.31 L458.08,545.36 L458.88,545.55 L459.72,545.89 L460.58,546.37 L461.44,546.98 L462.29,547.72 L463.12,548.57 L463.91,549.51 L464.65,550.54 L465.33,551.62 L465.93,552.75 L466.45,553.91 L466.87,555.06 L467.19,556.21 L467.4,557.31 L467.5,558.37 L467.49,559.35 L467.37,560.24 L467.14,561.03 L466.8,561.71 L466.35,562.25 L465.82,562.65"/><path d="M451.32,545.66 L452,545.38 L452.77,545.25 L453.61,545.3 L454.5,545.51 L455.43,545.89 L456.38,546.43 L457.34,547.11 L458.29,547.93 L459.21,548.88 L460.09,549.93 L460.92,551.06 L461.67,552.27 L462.34,553.53 L462.91,554.81 L463.38,556.1 L463.74,557.37 L463.98,558.6 L464.09,559.78 L464.08,560.87 L463.94,561.86 L463.68,562.74 L463.3,563.49 L462.81,564.09 L462.22,564.54"/><path d="M446.73,545.54 L447.47,545.23 L448.3,545.1 L449.2,545.15 L450.16,545.38 L451.17,545.79 L452.19,546.37 L453.23,547.11 L454.25,547.99 L455.25,549.01 L456.2,550.14 L457.09,551.37 L457.9,552.67 L458.62,554.03 L459.24,555.41 L459.75,556.8 L460.13,558.17 L460.39,559.5 L460.51,560.77 L460.5,561.95 L460.35,563.02 L460.07,563.97 L459.66,564.77 L459.13,565.42 L458.49,565.91"/><path class="w" d="M456.85,562.74 L456.45,559.99 L455.5,557.05 L454.08,554.14 L452.27,551.45 L450.2,549.17 L448.01,547.44 L445.86,546.4 L443.88,546.1 L442.21,546.57 L440.97,547.78 L440.23,549.64 L440.06,552.03 L440.46,554.79 L441.41,557.72 L442.83,560.64 L444.64,563.32 L446.71,565.61 L448.9,567.33 L451.05,568.38 L453.03,568.68 L454.7,568.21 L455.94,567 L456.67,565.14 L456.85,562.74 Z"/></g>
<path d="M305.22,423.8 L303.97,425.55 L302.45,427.12 L300.67,428.5 L298.64,429.67 L296.38,430.62 L293.91,431.36 L291.24,431.86 L288.39,432.14 L285.39,432.18 L282.25,431.99 L279.01,431.56 L275.69,430.91 L272.3,430.04 L268.89,428.94 L265.47,427.64 L262.07,426.14 L258.71,424.45 L255.43,422.59 L252.24,420.56 L249.18,418.39 L246.26,416.1 L243.5,413.69 L240.93,411.19 L238.57,408.61 L236.43,405.98 L234.54,403.32 L232.9,400.64 L231.52,397.97 L230.43,395.33 L229.62,392.73 L229.11,390.2 L228.89,387.76 L228.97,385.42 L229.35,383.2 L230.02,381.12 L230.98,379.2 L232.23,377.45 L233.75,375.88 L235.53,374.5 L237.56,373.33 L239.82,372.38 L242.29,371.64 L244.96,371.14 L247.81,370.86 L250.81,370.82 L253.95,371.01 L257.19,371.44 L260.51,372.09 L263.9,372.96 L267.31,374.06 L270.73,375.36 L274.13,376.86 L277.49,378.55 L280.77,380.41 L283.96,382.44 L287.02,384.61 L289.94,386.9 L292.7,389.31 L295.27,391.81 L297.63,394.39 L299.77,397.02 L301.66,399.68 L303.3,402.36 L304.68,405.03 L305.77,407.67 L306.58,410.27 L307.09,412.8 L307.31,415.24 L307.23,417.58 L306.85,419.8 L306.18,421.88 L305.22,423.8 Z"/>
<path d="M295.5,418.08 L294.51,419.5 L293.31,420.78 L291.92,421.91 L290.35,422.89 L288.61,423.7 L286.7,424.35 L284.66,424.82 L282.49,425.11 L280.21,425.23 L277.83,425.16 L275.38,424.91 L272.87,424.49 L270.32,423.89 L267.76,423.12 L265.19,422.19 L262.65,421.09 L260.15,419.85 L257.7,418.47 L255.34,416.96 L253.06,415.33 L250.91,413.6 L248.88,411.78 L246.99,409.87 L245.27,407.91 L243.72,405.89 L242.35,403.84 L241.17,401.77 L240.2,399.71 L239.44,397.65 L238.9,395.62 L238.58,393.64 L238.48,391.72 L238.6,389.87 L238.95,388.11 L239.52,386.46 L240.3,384.92 L241.29,383.5 L242.49,382.22 L243.88,381.09 L245.45,380.11 L247.19,379.3 L249.1,378.65 L251.14,378.18 L253.31,377.89 L255.59,377.77 L257.97,377.84 L260.42,378.09 L262.93,378.51 L265.48,379.11 L268.04,379.88 L270.61,380.81 L273.15,381.91 L275.65,383.15 L278.1,384.53 L280.46,386.04 L282.74,387.67 L284.89,389.4 L286.92,391.22 L288.81,393.13 L290.53,395.09 L292.08,397.11 L293.45,399.16 L294.63,401.23 L295.6,403.29 L296.36,405.35 L296.9,407.38 L297.22,409.36 L297.32,411.28 L297.2,413.13 L296.85,414.89 L296.28,416.54 L295.5,418.08 Z"/>
<path d="M287.34,412.68 L286.74,413.53 L285.99,414.28 L285.11,414.93 L284.1,415.48 L282.98,415.93 L281.74,416.26 L280.4,416.47 L278.97,416.58 L277.46,416.56 L275.88,416.43 L274.24,416.18 L272.56,415.82 L270.85,415.35 L269.12,414.78 L267.38,414.1 L265.65,413.32 L263.95,412.45 L262.27,411.5 L260.64,410.47 L259.07,409.37 L257.58,408.21 L256.16,406.99 L254.84,405.73 L253.62,404.44 L252.51,403.13 L251.53,401.8 L250.67,400.46 L249.95,399.14 L249.37,397.83 L248.93,396.54 L248.64,395.29 L248.5,394.09 L248.52,392.95 L248.68,391.86 L248.99,390.85 L249.46,389.92 L250.06,389.07 L250.81,388.32 L251.69,387.67 L252.7,387.12 L253.82,386.67 L255.06,386.34 L256.4,386.13 L257.83,386.02 L259.34,386.04 L260.92,386.17 L262.56,386.42 L264.24,386.78 L265.95,387.25 L267.68,387.82 L269.42,388.5 L271.15,389.28 L272.85,390.15 L274.53,391.1 L276.16,392.13 L277.73,393.23 L279.22,394.39 L280.64,395.61 L281.96,396.87 L283.18,398.16 L284.29,399.47 L285.27,400.8 L286.13,402.14 L286.85,403.46 L287.43,404.77 L287.87,406.06 L288.16,407.31 L288.3,408.51 L288.28,409.65 L288.12,410.74 L287.81,411.75 L287.34,412.68 Z"/>
<path d="M246.19,406.12 L245.25,404.77 L244.39,403.41 L243.63,402.04 L242.96,400.68 L242.39,399.32 L241.91,397.97 L241.54,396.64 L241.27,395.33 L241.11,394.04 L241.05,392.79 L241.09,391.57 L241.24,390.39 L241.5,389.26 L241.85,388.17 L242.31,387.14 L242.87,386.16 L243.52,385.25 L244.28,384.4 L245.12,383.61 L246.05,382.9 L247.07,382.25 L248.17,381.68 L249.35,381.19 L250.6,380.78 L251.93,380.45 L253.31,380.2 L254.76,380.03 L256.25,379.94 L257.8,379.94 L259.39,380.02 L261.01,380.19 L262.67,380.43 L264.35,380.76 L266.04,381.17 L267.75,381.66 L269.47,382.22 L271.18,382.86 L272.88,383.57 L274.57,384.36 L276.24,385.21" class="t"/>
<path d="M287.25,401.48 L287.92,402.53 L288.5,403.59 L289.02,404.64 L289.45,405.68 L289.8,406.7 L290.06,407.71 L290.24,408.7 L290.34,409.66 L290.35,410.6 L290.28,411.5 L290.12,412.36 L289.87,413.19 L289.55,413.97 L289.14,414.7 L288.65,415.39 L288.08,416.02 L287.43,416.6 L286.72,417.13 L285.93,417.59 L285.07,417.99 L284.15,418.33 L283.16,418.61 L282.12,418.82 L281.03,418.97 L279.89,419.05 L278.71,419.06 L277.49,419.01 L276.23,418.89 L274.95,418.7 L273.64,418.45 L272.31,418.14 L270.97,417.76 L269.62,417.32 L268.27,416.82 L266.92,416.26 L265.58,415.65 L264.26,414.98 L262.95,414.27 L261.67,413.51 L260.41,412.7" class="t"/>
<path d="M259.66,386.51 L255.16,379"/>
<path d="M261.16,385.72 L256.66,378.21"/>
<path d="M273.08,390.31 L275.88,384.15"/>
<path d="M274.6,391.08 L277.39,384.93"/>
<path d="M284.71,399.26 L292.78,398.82"/>
<path d="M284.84,400.96 L292.9,400.52"/>
<path d="M279.78,416.09 L284.44,423.57"/>
<path d="M278.38,417.06 L283.04,424.54"/>
<path d="M262.99,411.93 L258.88,418.21"/>
<path d="M261.54,411.06 L257.42,417.33"/>
<path d="M249.48,399.24 L240.17,398.05"/>
<path d="M249.73,397.56 L240.43,396.37"/>
<path d="M17.9,194.3 L87.8,234.35" class="t"/>
<path d="M273.8,46.4 L343.4,86.7" class="t"/>
<path d="M23.8,196.95 L278.8,49.5" class="t"/>
<path class="ar" d="M23.8,196.95 L31.41,190.13 L33.51,193.76 Z"/>
<path class="ar" d="M278.8,49.5 L271.19,56.32 L269.09,52.69 Z"/>
<g class="tx" transform="translate(142.9,123.5) rotate(-30)"><g transform="translate(-1.2,0) matrix(0.85,0,0,0.921,0.55,-0.65)"><path d="M6.4,-14.9 C3.2,-13.8 0,-9 0,-4.4 C0,-1.6 1.6,0 3.7,0 C5.8,0 7.4,-1.8 7.4,-4.6 C7.4,-7.4 5.8,-9 3.7,-9 C2,-9 0.5,-7.6 0.1,-5.4"/></g><g transform="translate(10.3,0) matrix(0.85,0,0,0.921,0.55,-0.65)"><path d="M0.3,-15.2 L7,-15.2 L3.2,-8.8 C5.6,-9.2 7.4,-7.2 7.4,-4.6 C7.4,-1.6 5.7,0 3.7,0 C2,0 0.5,-1 0,-2.8"/></g><g transform="translate(21.8,0) matrix(0.85,0,0,0.921,0.55,-0.65)"><ellipse cx="3.7" cy="-7.6" rx="3.7" ry="7.6"/></g></g>
<path d="M396,46.6 L338.8,79.3" class="t"/>
<path d="M774.5,263.5 L716.5,297.7" class="t"/>
<path d="M392,49.9 L768.3,267.2" class="t"/>
<path class="ar" d="M392,49.9 L401.71,53.08 L399.61,56.72 Z"/>
<path class="ar" d="M768.3,267.2 L758.59,264.02 L760.69,260.38 Z"/>
<g class="tx" transform="translate(569.7,148.3) rotate(30)"><g transform="translate(0,0) matrix(0.85,0,0,0.921,0.55,-0.65)"><path d="M7.3,-10.6 C7.3,-13.4 5.8,-15.2 3.7,-15.2 C1.6,-15.2 0,-13.4 0,-10.6 C0,-7.8 1.6,-6.2 3.7,-6.2 C5.8,-6.2 7.3,-7.8 7.3,-10.6 C7.3,-6 5,-1.2 1.4,0"/></g><g transform="translate(10.9,0) matrix(0.85,0,0,0.921,0.55,-0.65)"><path d="M0.3,-15.2 L7,-15.2 L3.2,-8.8 C5.6,-9.2 7.4,-7.2 7.4,-4.6 C7.4,-1.6 5.7,0 3.7,0 C2,0 0.5,-1 0,-2.8"/></g><g transform="translate(21.8,0) matrix(0.85,0,0,0.921,0.55,-0.65)"><ellipse cx="3.7" cy="-7.6" rx="3.7" ry="7.6"/></g></g>
<path d="M17.5,320.5 L75.6,354.3" class="t"/>
<path d="M23.2,197.5 L23.2,323" class="t"/>
<path class="ar" d="M23.2,197.5 L25.3,207.5 L21.1,207.5 Z"/>
<path class="ar" d="M23.2,323 L21.1,313 L25.3,313 Z"/>
<g class="tx" transform="translate(19.9,271.8) rotate(-90)"><g transform="translate(0,0) matrix(0.85,0,0,0.921,0.55,-0.65)"><path d="M0.2,-11.5 C0.2,-16.4 7.4,-16.4 7.4,-11.3 C7.4,-8.6 4.6,-6 0,0 L7.6,0"/></g><g transform="translate(11.45,0) matrix(0.85,0,0,0.921,0.55,-0.65)"><path d="M0,-13.4 L0,-15.2 L6.85,-15.2 L3.4,0"/></g><g transform="translate(23.1,0) matrix(0.85,0,0,0.921,0.55,-0.65)"><ellipse cx="3.7" cy="-7.6" rx="3.7" ry="7.6"/></g></g>
<path d="M75.2,111.3 L110.5,111.3" class="t"/>
<g class="tx" transform="translate(75.2,108) rotate(0)"><g transform="translate(3.9,0) matrix(0.85,0,0,0.921,0.55,-0.65)"><ellipse cx="3.7" cy="-5.25" rx="3.7" ry="5.25"/><path d="M-0.6,-0.2 L8,-10.8"/></g><g transform="translate(15.2,0) matrix(0.85,0,0,0.921,0.55,-0.65)"><path d="M0,-11.4 L3.1,-15.2 L3.1,0"/></g><g transform="translate(24,0) matrix(0.85,0,0,0.921,0.55,-0.65)"><path d="M7.3,-10.6 C7.3,-13.4 5.8,-15.2 3.7,-15.2 C1.6,-15.2 0,-13.4 0,-10.6 C0,-7.8 1.6,-6.2 3.7,-6.2 C5.8,-6.2 7.3,-7.8 7.3,-10.6 C7.3,-6 5,-1.2 1.4,0"/></g></g>
<path d="M93.5,111.3 L107.5,213.2" class="t"/>
<path class="ar" d="M107.5,213.2 L104.06,203.58 L108.22,203.01 Z"/>
<path d="M93.5,111.3 L120.7,205.2" class="t"/>
<path class="ar" d="M120.7,205.2 L115.9,196.18 L119.93,195.01 Z"/>
<path d="M264,26 L299.3,26" class="t"/>
<g class="tx" transform="translate(264,22.7) rotate(0)"><g transform="translate(3.9,0) matrix(0.85,0,0,0.921,0.55,-0.65)"><ellipse cx="3.7" cy="-5.25" rx="3.7" ry="5.25"/><path d="M-0.6,-0.2 L8,-10.8"/></g><g transform="translate(15.2,0) matrix(0.85,0,0,0.921,0.55,-0.65)"><path d="M0,-11.4 L3.1,-15.2 L3.1,0"/></g><g transform="translate(24,0) matrix(0.85,0,0,0.921,0.55,-0.65)"><path d="M7.3,-10.6 C7.3,-13.4 5.8,-15.2 3.7,-15.2 C1.6,-15.2 0,-13.4 0,-10.6 C0,-7.8 1.6,-6.2 3.7,-6.2 C5.8,-6.2 7.3,-7.8 7.3,-10.6 C7.3,-6 5,-1.2 1.4,0"/></g></g>
<path d="M281.5,26 L290.4,108.4" class="t"/>
<path class="ar" d="M290.4,108.4 L287.24,98.68 L291.41,98.23 Z"/>
<path d="M281.5,26 L303.5,99.4" class="t"/>
<path class="ar" d="M303.5,99.4 L298.62,90.42 L302.64,89.22 Z"/>
<path d="M637.5,235.7 L672.8,235.7" class="t"/>
<g class="tx" transform="translate(637.5,232.4) rotate(0)"><g transform="translate(3.9,0) matrix(0.85,0,0,0.921,0.55,-0.65)"><ellipse cx="3.7" cy="-5.25" rx="3.7" ry="5.25"/><path d="M-0.6,-0.2 L8,-10.8"/></g><g transform="translate(15.2,0) matrix(0.85,0,0,0.921,0.55,-0.65)"><path d="M0,-11.4 L3.1,-15.2 L3.1,0"/></g><g transform="translate(24,0) matrix(0.85,0,0,0.921,0.55,-0.65)"><path d="M7.3,-10.6 C7.3,-13.4 5.8,-15.2 3.7,-15.2 C1.6,-15.2 0,-13.4 0,-10.6 C0,-7.8 1.6,-6.2 3.7,-6.2 C5.8,-6.2 7.3,-7.8 7.3,-10.6 C7.3,-6 5,-1.2 1.4,0"/></g></g>
<path d="M212.2,297.3 L269.1,297.3" class="t"/>
<g class="tx" transform="translate(212.2,294.2) rotate(0)"><g transform="translate(2.3,0) matrix(0.85,0,0,0.921,0.55,-0.65)"><path d="M0,0 L0,-15.2 L5,-15.2 C8,-15.2 9.4,-13.6 9.4,-11.3 C9.4,-9 8,-7.4 5,-7.4 L0,-7.4 M5,-7.4 L9.6,0"/></g><g transform="translate(16.9,0) matrix(0.85,0,0,0.921,0.55,-0.65)"><path d="M-2.3,-11.5 L3.1,-15.2 L3.1,0"/></g><g transform="translate(24.4,0) matrix(0.85,0,0,0.921,0.55,-0.65)"><path d="M0,0 L9.3,-15.4"/></g><g transform="translate(36.4,0) matrix(0.85,0,0,0.921,0.55,-0.65)"><path d="M4.8,-15.2 L0,-3.2 L8.8,-3.2 M6.2,-6.9 L6.2,0"/></g><g transform="translate(49.5,0) matrix(0.85,0,0,0.921,0.55,-0.65)"><path d="M1.2,-15.4 L0,-10.4 M5.4,-15.4 L4.2,-10.4"/></g></g>
<path d="M269.1,297.3 L288.5,229" class="t"/>
<path class="ar" d="M288.5,229 L287.79,239.19 L283.75,238.05 Z"/>
<path d="M480,242.75 L536.9,242.75" class="t"/>
<g class="tx" transform="translate(480,239.65) rotate(0)"><g transform="translate(2.3,0) matrix(0.85,0,0,0.921,0.55,-0.65)"><path d="M0,0 L0,-15.2 L5,-15.2 C8,-15.2 9.4,-13.6 9.4,-11.3 C9.4,-9 8,-7.4 5,-7.4 L0,-7.4 M5,-7.4 L9.6,0"/></g><g transform="translate(16.9,0) matrix(0.85,0,0,0.921,0.55,-0.65)"><path d="M-2.3,-11.5 L3.1,-15.2 L3.1,0"/></g><g transform="translate(24.4,0) matrix(0.85,0,0,0.921,0.55,-0.65)"><path d="M0,0 L9.3,-15.4"/></g><g transform="translate(36.4,0) matrix(0.85,0,0,0.921,0.55,-0.65)"><path d="M4.8,-15.2 L0,-3.2 L8.8,-3.2 M6.2,-6.9 L6.2,0"/></g><g transform="translate(49.5,0) matrix(0.85,0,0,0.921,0.55,-0.65)"><path d="M1.2,-15.4 L0,-10.4 M5.4,-15.4 L4.2,-10.4"/></g></g>
<path d="M508,242.75 L521.75,301.5" class="t"/>
<path class="ar" d="M521.75,301.5 L517.43,292.24 L521.52,291.28 Z"/>
<path d="M496.75,509.4 L553.65,509.4" class="t"/>
<g class="tx" transform="translate(496.75,506.3) rotate(0)"><g transform="translate(2.3,0) matrix(0.85,0,0,0.921,0.55,-0.65)"><path d="M0,0 L0,-15.2 L5,-15.2 C8,-15.2 9.4,-13.6 9.4,-11.3 C9.4,-9 8,-7.4 5,-7.4 L0,-7.4 M5,-7.4 L9.6,0"/></g><g transform="translate(16.9,0) matrix(0.85,0,0,0.921,0.55,-0.65)"><path d="M-2.3,-11.5 L3.1,-15.2 L3.1,0"/></g><g transform="translate(24.4,0) matrix(0.85,0,0,0.921,0.55,-0.65)"><path d="M0,0 L9.3,-15.4"/></g><g transform="translate(36.4,0) matrix(0.85,0,0,0.921,0.55,-0.65)"><path d="M4.8,-15.2 L0,-3.2 L8.8,-3.2 M6.2,-6.9 L6.2,0"/></g><g transform="translate(49.5,0) matrix(0.85,0,0,0.921,0.55,-0.65)"><path d="M1.2,-15.4 L0,-10.4 M5.4,-15.4 L4.2,-10.4"/></g></g>
<path d="M5.9,403.3 L48.6,403.3" class="t"/>
<g class="tx" transform="translate(5.9,399.8) rotate(0)"><g transform="translate(4,0) matrix(0.85,0,0,0.921,0.55,-0.65)"><ellipse cx="5.3" cy="-7.45" rx="5.3" ry="5.15"/><path d="M2.9,0 L7.7,-15.2"/></g><g transform="translate(19,0) matrix(0.85,0,0,0.921,0.55,-0.65)"><path d="M4.8,-15.2 L0,-3.2 L8.8,-3.2 M6.2,-6.9 L6.2,0"/></g><g transform="translate(32.2,0) matrix(0.85,0,0,0.921,0.55,-0.65)"><ellipse cx="3.7" cy="-7.6" rx="3.7" ry="7.6"/></g></g>
<path d="M549.2,480.2 L591.9,480.2" class="t"/>
<g class="tx" transform="translate(549.2,476.7) rotate(0)"><g transform="translate(4,0) matrix(0.85,0,0,0.921,0.55,-0.65)"><ellipse cx="5.3" cy="-7.45" rx="5.3" ry="5.15"/><path d="M2.9,0 L7.7,-15.2"/></g><g transform="translate(19,0) matrix(0.85,0,0,0.921,0.55,-0.65)"><path d="M4.8,-15.2 L0,-3.2 L8.8,-3.2 M6.2,-6.9 L6.2,0"/></g><g transform="translate(32.2,0) matrix(0.85,0,0,0.921,0.55,-0.65)"><ellipse cx="3.7" cy="-7.6" rx="3.7" ry="7.6"/></g></g>
<path d="M364.9,610.4 L407.6,610.4" class="t"/>
<g class="tx" transform="translate(364.9,606.9) rotate(0)"><g transform="translate(4,0) matrix(0.85,0,0,0.921,0.55,-0.65)"><ellipse cx="5.3" cy="-7.45" rx="5.3" ry="5.15"/><path d="M2.9,0 L7.7,-15.2"/></g><g transform="translate(19,0) matrix(0.85,0,0,0.921,0.55,-0.65)"><path d="M4.8,-15.2 L0,-3.2 L8.8,-3.2 M6.2,-6.9 L6.2,0"/></g><g transform="translate(32.2,0) matrix(0.85,0,0,0.921,0.55,-0.65)"><ellipse cx="3.7" cy="-7.6" rx="3.7" ry="7.6"/></g></g>
<ellipse cx="290.2" cy="223.4" rx="3" ry="2.1" transform="rotate(-35 290.2 223.4)"/>
<ellipse cx="523.6" cy="306.8" rx="2.9" ry="2.6"/>
<ellipse cx="465.5" cy="452.5" rx="1.9" ry="3.3" transform="rotate(27 465.5 452.5)" style="fill:#1c1c1c"/>
<path d="M335.2,109 L335.2,127" class="t"/>
<path d="M335.2,131 L335.2,156" class="t"/>
<path d="M335.2,161 L335.2,185.5" class="t"/>
<path d="M335.2,189.5 L335.2,208.8" class="t"/>
<path d="M335.2,208.8 L356.4,221.03" class="t"/>
<path d="M361.6,224.03 L382.1,235.85" class="t"/>
<path d="M386.7,238.51 L407.2,250.33" class="t"/>
<path d="M412.2,253.21 L432.7,265.04" class="t"/>
<path d="M437.4,267.75 L457.9,279.57" class="t"/>
<path d="M463.1,282.57 L483.6,294.4" class="t"/>
<path d="M488.3,297.11 L508.8,308.93" class="t"/>
<path d="M513.8,311.82 L534.3,323.64" class="t"/>
<path d="M539.3,326.52 L559.8,338.35" class="t"/>
<path d="M564.8,341.23 L585.3,353.06" class="t"/>
<path d="M590.3,355.94 L610.8,367.77" class="t"/>
<path d="M615.8,370.65 L636.3,382.47" class="t"/>
<path d="M641.3,385.36 L661.8,397.18" class="t"/>
<path d="M666.8,400.07 L687.3,411.89" class="t"/>
<path d="M692.3,414.78 L712,426.14" class="t"/>
<path d="M335.1,208.8 L316.2,219.66" class="t"/>
<path d="M312.1,222.01 L291.2,234.02" class="t"/>
<path d="M285.7,237.18 L266.1,248.44" class="t"/>
<path d="M261.4,251.14 L241.1,262.8" class="t"/>
<path d="M655.7,235.7 L666.5,323.4" class="t"/>
<path class="ar" d="M666.5,323.4 L663.19,313.73 L667.36,313.22 Z"/>
<path d="M655.7,235.7 L681.3,314.8" class="t"/>
<path class="ar" d="M681.3,314.8 L676.22,305.93 L680.22,304.64 Z"/>
<path d="M48.6,403.3 L84.4,358.6" class="t"/>
<path class="ar" d="M84.4,358.6 L79.79,367.72 L76.51,365.09 Z"/>
<path d="M549.2,480.2 L515.15,436.6" class="t"/>
<path class="ar" d="M515.15,436.6 L522.96,443.19 L519.65,445.77 Z"/>
<path d="M407.6,610.4 L442.9,565.2" class="t"/>
<path class="ar" d="M442.9,565.2 L438.4,574.37 L435.09,571.79 Z"/>
<path d="M496.75,509.4 L467,455.5" class="t"/>
<path class="ar" d="M467,455.5 L473.67,463.24 L469.99,465.27 Z"/>
</svg>
</body></html>
